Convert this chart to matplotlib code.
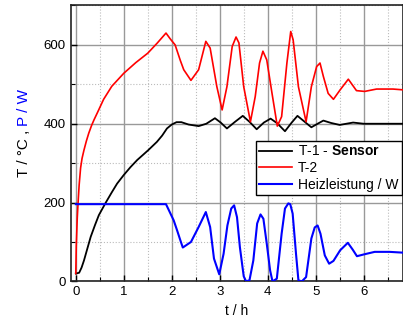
import matplotlib
matplotlib.use("Agg")
import matplotlib.pyplot as plt
from matplotlib.ticker import MultipleLocator

plt.rcParams['font.family'] = ['Liberation Sans', 'DejaVu Sans']
plt.rcParams['mathtext.fontset'] = 'custom'
plt.rcParams['mathtext.rm'] = 'Liberation Sans'
plt.rcParams['mathtext.bf'] = 'Liberation Sans:bold'

# T-2 (red)
t_t2 = [0, 0.01, 0.03, 0.05, 0.07, 0.1, 0.13, 0.17, 0.22, 0.27, 0.33, 0.38, 0.45,
        0.58, 0.75, 1.0, 1.25, 1.5, 1.7, 1.88,
        1.97, 2.07, 2.18, 2.25, 2.40, 2.56, 2.71, 2.80, 2.94, 3.05, 3.15, 3.26, 3.34,
        3.40, 3.50, 3.64, 3.74, 3.83, 3.90, 3.98, 4.09, 4.20, 4.29, 4.40, 4.48, 4.53,
        4.64, 4.80, 4.91, 5.02, 5.09, 5.16, 5.26, 5.37, 5.51, 5.68, 5.85, 6.02, 6.27,
        6.61, 6.82]
v_t2 = [20, 90, 160, 205, 245, 288, 312, 333, 356, 376, 396, 410, 428,
        462, 495, 528, 555, 579, 605, 630,
        615, 600, 560, 537, 510, 537, 609, 592, 494, 435, 494, 596, 620,
        605, 494, 405, 469, 554, 584, 562, 477, 394, 418, 554, 634, 613,
        494, 405, 494, 545, 554, 520, 477, 462, 486, 513, 484, 482, 488,
        488, 486]

# T-1 sensor (black)
t_t1 = [0, 0.07, 0.12, 0.17, 0.24, 0.31, 0.40, 0.48, 0.62, 0.75, 0.86, 1.0, 1.14,
        1.28, 1.40, 1.51, 1.69, 1.80, 1.90, 2.0,
        2.10, 2.20, 2.35, 2.56, 2.72, 2.90, 3.02, 3.15, 3.32, 3.48, 3.62, 3.77, 3.92,
        4.06, 4.20, 4.36, 4.50, 4.62, 4.76, 4.91, 5.04, 5.16, 5.32, 5.50, 5.78, 6.0,
        6.4, 6.82]
v_t1 = [20, 22, 35, 53, 83, 113, 143, 168, 199, 226, 248, 270, 290,
        308, 321, 333, 354, 370, 388, 398,
        404, 404, 398, 394, 400, 414, 403, 388, 405, 420, 405, 386, 403,
        413, 401, 381, 403, 420, 406, 391, 400, 408, 402, 397, 403, 400,
        400, 400]

# Heizleistung (blue)
t_p = [0, 1.88, 2.04, 2.11, 2.18, 2.23, 2.40, 2.56, 2.71, 2.80, 2.88, 2.99, 3.08,
       3.16, 3.24, 3.30, 3.36, 3.42, 3.50, 3.55, 3.62, 3.70, 3.78, 3.85, 3.91, 3.98,
       4.05, 4.10, 4.19, 4.29, 4.36, 4.43, 4.47, 4.52, 4.59, 4.64, 4.71, 4.80, 4.91,
       4.98, 5.04, 5.10, 5.19, 5.28, 5.37, 5.51, 5.67, 5.77, 5.86, 6.02, 6.23, 6.54,
       6.82]
v_p = [196, 196, 155, 130, 104, 86, 100, 138, 176, 138, 58, 18, 70,
       142, 185, 193, 163, 87, 13, 0, 3, 53, 147, 170, 159, 96,
       28, 0, 7, 121, 185, 198, 196, 172, 70, 3, 0, 11, 109,
       137, 142, 121, 66, 45, 52, 79, 98, 81, 64, 69, 75, 75,
       73]

labels = ["T-1 - $\\bf{Sensor}$", "T-2", "Heizleistung / W"]

fig = plt.figure(figsize=(4.03, 3.22), dpi=100)
ax = fig.add_axes([0.175, 0.126, 0.825, 0.857])

ax.plot(t_t1, v_t1, color="black", lw=1.3, label=labels[0], zorder=3)
ax.plot(t_t2, v_t2, color="#ff0000", lw=1.2, label=labels[1], zorder=3)
ax.plot(t_p, v_p, color="#0000ff", lw=1.5, label=labels[2], zorder=3)

ax.set_xlim(-0.11, 6.82)
ax.set_ylim(0, 700)
ax.xaxis.set_major_locator(MultipleLocator(1))
ax.xaxis.set_minor_locator(MultipleLocator(0.5))
ax.yaxis.set_major_locator(MultipleLocator(200))
ax.yaxis.set_minor_locator(MultipleLocator(100))
ax.grid(which="major", color="#999999", lw=1.0, ls="-")
ax.grid(which="minor", color="#bbbbbb", lw=0.8, ls=":")
ax.set_axisbelow(True)
ax.tick_params(which="both", direction="in", labelsize=9.5, color="black")
ax.tick_params(which="major", length=4, width=1)
ax.tick_params(which="minor", length=3, width=0.8)
for s in ax.spines.values():
    s.set_color("#222222")
    s.set_linewidth(1.2)

ax.set_xlabel("t / h", fontsize=10, labelpad=4)

leg = ax.legend(loc="upper right", bbox_to_anchor=(0.997, 0.509), borderaxespad=0,
                fontsize=10, fancybox=False, framealpha=1, edgecolor="black",
                handlelength=2.4, handletextpad=0.4, labelspacing=0.2,
                borderpad=0.25)
leg.get_frame().set_linewidth(1.0)

# y label in two colours
fig.canvas.draw()
r = fig.canvas.get_renderer()
t1 = fig.text(24 / 403, 1 - 177 / 322, "T / \u00b0C , ", rotation=90, fontsize=11,
              ha="center", va="bottom", color="black")
ext = t1.get_window_extent(r)
fig.text(24 / 403, ext.y1 / fig.bbox.height, "P / W", rotation=90, fontsize=11,
         ha="center", va="bottom", color="#0000ff")

fig.savefig("out.png", dpi=100)
